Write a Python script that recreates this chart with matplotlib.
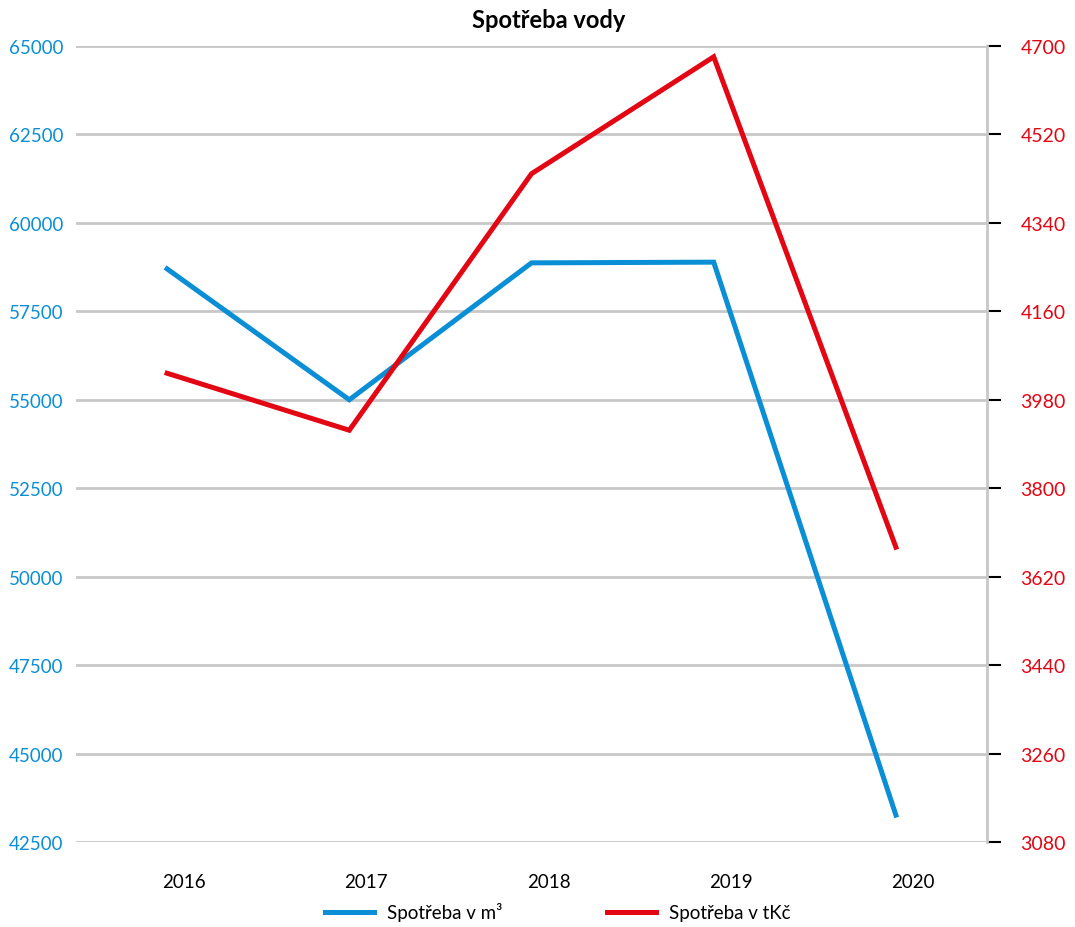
import matplotlib.pyplot as plt
import matplotlib.transforms as mtransforms

# Data
roky = ['2016', '2017', '2018', '2019', '2020']
spotreba_m3 = [58700, 55000, 58870, 58890, 43260]
spotreba_tkc = [4034, 3918, 4440, 4678, 3680]

ticks_m3 = list(range(42500, 65001, 2500))
ticks_tkc = list(range(3080, 4701, 180))

MODRA = '#0a8fd6'
CERVENA = '#e30613'
SEDA = '#c8c8c8'

plt.rcParams['font.family'] = ['Lato', 'DejaVu Sans']

fig = plt.figure(figsize=(10.75, 9.28), dpi=100)
ax1 = fig.add_axes([76 / 1075, 1 - 843 / 928, (987 - 76) / 1075, (843 - 47) / 928])
ax2 = ax1.twinx()

x = list(range(len(roky)))
l1, = ax1.plot(x, spotreba_m3, color=MODRA, lw=3.6, solid_joinstyle='miter', label='Spotřeba v m³')
l2, = ax2.plot(x, spotreba_tkc, color=CERVENA, lw=3.6, solid_joinstyle='miter', label='Spotřeba v tKč')

ax1.set_xlim(-0.5, len(roky) - 0.5)
ax1.set_ylim(42500, 65000)
ax2.set_ylim(3080, 4700)
ax1.set_yticks(ticks_m3)
ax2.set_yticks(ticks_tkc)

ax1.grid(axis='y', color=SEDA, lw=2)
ax1.set_axisbelow(True)
for s in ['top', 'left', 'bottom', 'right']:
    ax1.spines[s].set_visible(False)
    ax2.spines[s].set_visible(False)
ax2.spines['right'].set_visible(True)
ax2.spines['right'].set_color(SEDA)
ax2.spines['right'].set_linewidth(2)

ax1.tick_params(axis='y', length=0, pad=9, labelsize=13.5, labelcolor=MODRA)
ax2.tick_params(axis='y', length=10, width=1.5, color='black', direction='out', pad=14,
                labelsize=14, labelcolor=CERVENA)

ax1.set_xticks(x)
ax1.set_xticklabels(roky)
ax1.tick_params(axis='x', length=0, pad=22, labelsize=13.5, labelcolor='black')
posun = mtransforms.ScaledTranslation(17 / 100, 0, fig.dpi_scale_trans)
for lab in ax1.get_xticklabels():
    lab.set_transform(lab.get_transform() + posun)

fig.text(549 / 1075, 1 - 20 / 928, 'Spotřeba vody', ha='center', va='center',
         fontsize=17, fontweight='bold')

fig.legend(handles=[l1, l2], loc='center', bbox_to_anchor=(558 / 1075, 1 - 913 / 928),
           ncol=2, frameon=False, fontsize=13.5, handlelength=2.6, columnspacing=5.6,
           handletextpad=0.7)

fig.savefig('out.png', dpi=100)
